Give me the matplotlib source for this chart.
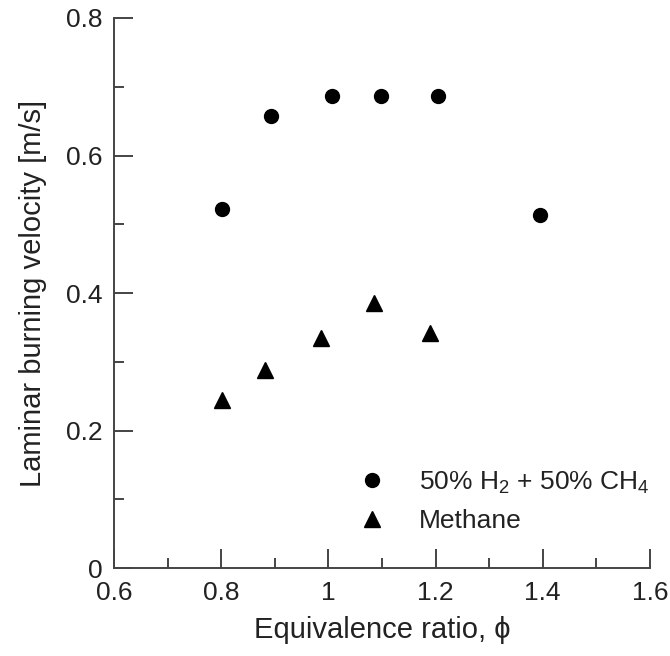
import matplotlib
matplotlib.use("Agg")
from matplotlib import pyplot as plt
from matplotlib.ticker import MultipleLocator, FuncFormatter

# data
phi_mix = [0.802, 0.893, 1.006, 1.099, 1.204, 1.395]
sl_mix = [0.522, 0.657, 0.687, 0.687, 0.687, 0.514]
phi_ch4 = [0.802, 0.882, 0.986, 1.085, 1.190]
sl_ch4 = [0.244, 0.288, 0.334, 0.386, 0.342]

plt.rcParams['font.family'] = ['Liberation Sans', 'DejaVu Sans']
plt.rcParams['mathtext.fontset'] = 'custom'
plt.rcParams['mathtext.rm'] = 'Liberation Sans'

fig = plt.figure(figsize=(6.7, 6.56), dpi=100)
ax = fig.add_axes([0.170, 0.134, 0.800, 0.8386])

ax.plot(phi_mix, sl_mix, 'o', color='black', markersize=10, label='50% H$_2$ + 50% CH$_4$')
ax.plot(phi_ch4, sl_ch4, '^', color='black', markersize=12, label='Methane')

ax.set_xlim(0.6, 1.6)
ax.set_ylim(0, 0.8)
ax.xaxis.set_major_locator(MultipleLocator(0.2))
ax.xaxis.set_minor_locator(MultipleLocator(0.1))
ax.yaxis.set_major_locator(MultipleLocator(0.2))
ax.yaxis.set_minor_locator(MultipleLocator(0.1))
fmt = FuncFormatter(lambda v, p: '%g' % round(v, 2))
ax.xaxis.set_major_formatter(fmt)
ax.yaxis.set_major_formatter(fmt)

for side in ['top', 'right']:
    ax.spines[side].set_visible(False)
for side in ['left', 'bottom']:
    ax.spines[side].set_linewidth(1.4)
    ax.spines[side].set_color('#444444')

ax.tick_params(which='both', direction='in', color='#444444', width=1.4,
               labelsize=19, labelcolor='#222222')
ax.tick_params(which='major', length=14)
ax.tick_params(which='minor', length=7)
ax.tick_params(axis='x', which='major', pad=9)
ax.tick_params(axis='y', which='major', pad=8)

ax.set_xlabel('Equivalence ratio, \u03d5', fontsize=21, color='#222222', labelpad=8)
ax.set_ylabel('Laminar burning velocity [m/s]', fontsize=21, color='#222222', labelpad=14)

leg = ax.legend(loc='lower right', bbox_to_anchor=(1.02, 0.045), frameon=False,
                fontsize=19, handletextpad=0.8, labelspacing=0.5, borderaxespad=0)
for t in leg.get_texts():
    t.set_color('#222222')

fig.savefig('out.png', dpi=100)
